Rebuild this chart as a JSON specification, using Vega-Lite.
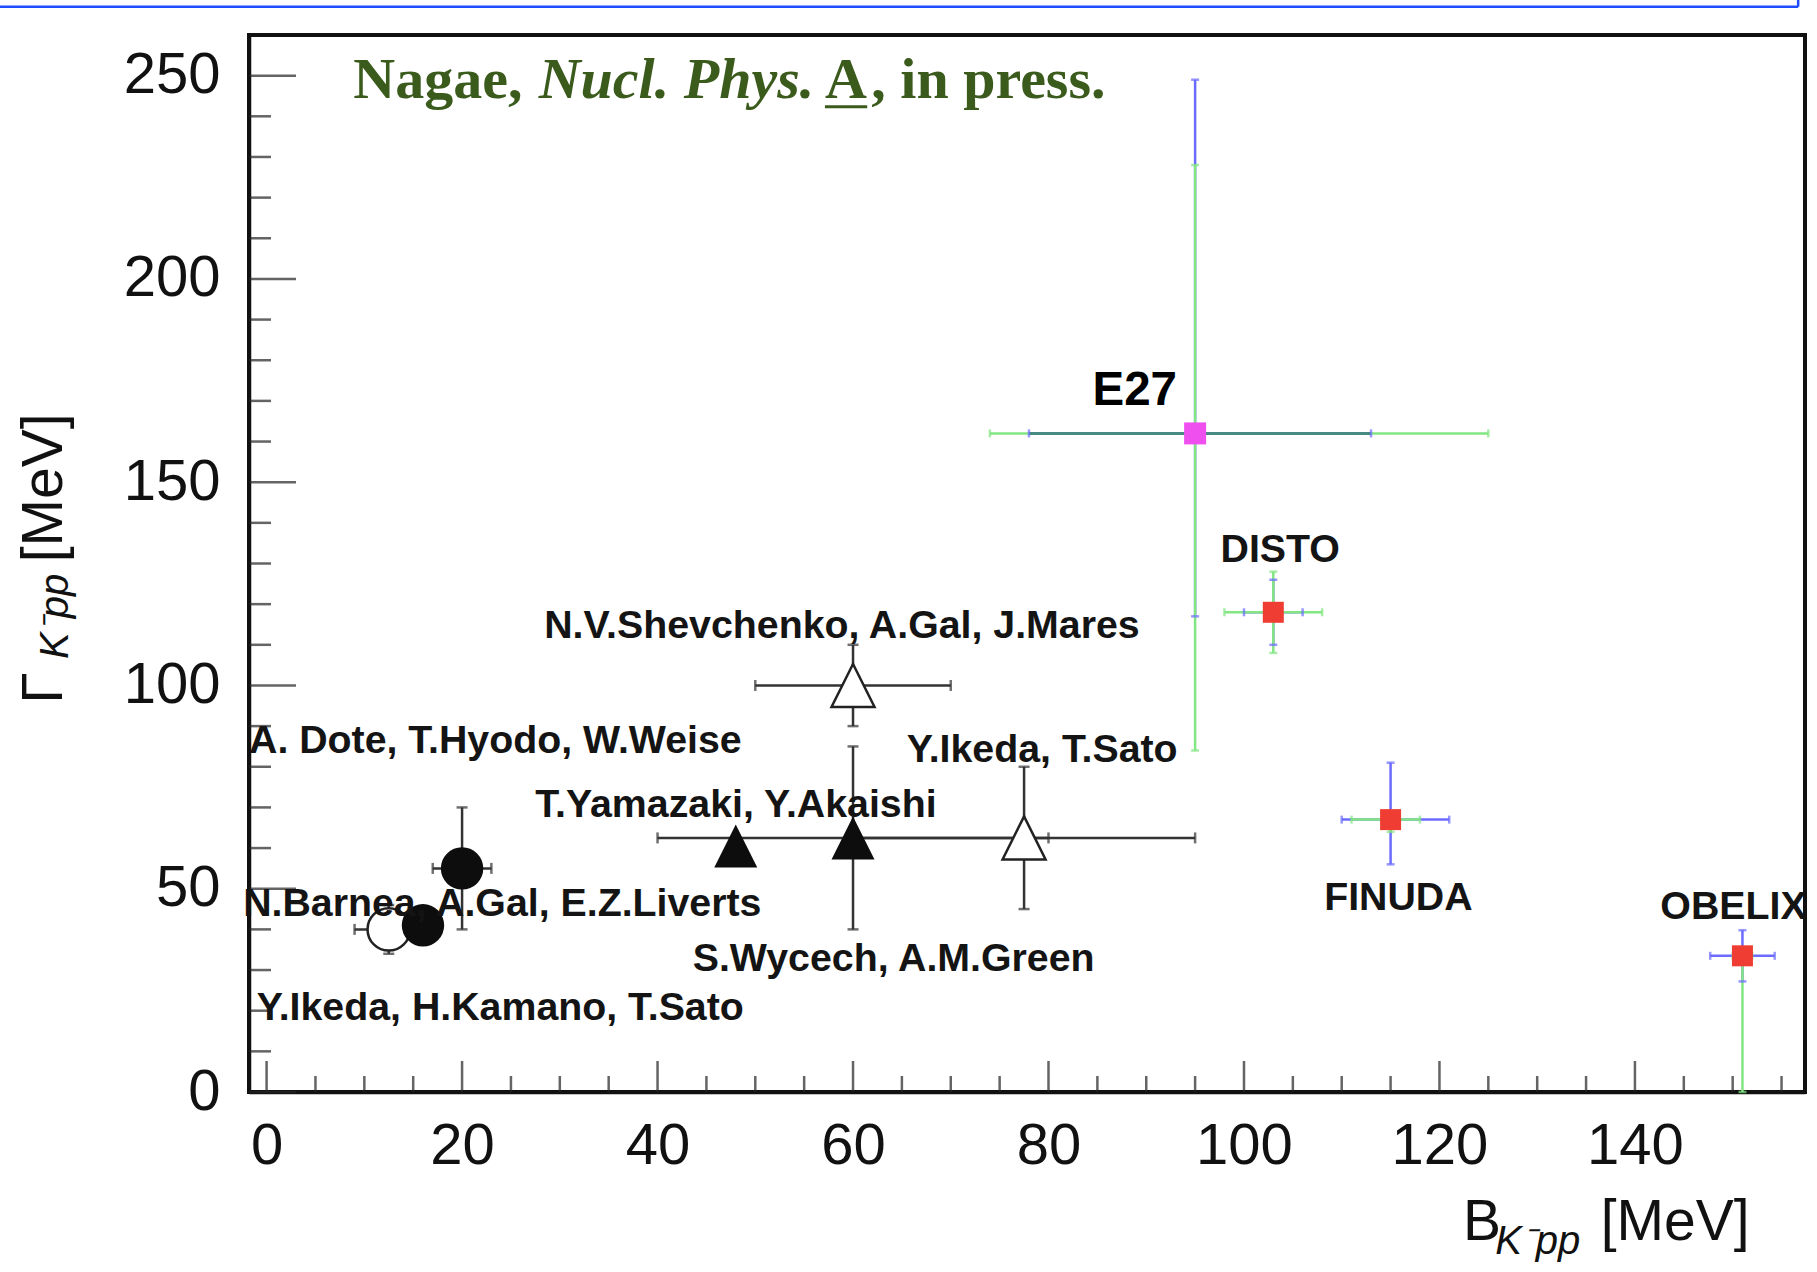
{
  "$schema": "https://vega.github.io/schema/vega-lite/v6.json",
  "width": 1556,
  "height": 1057,
  "autosize": {"type": "none"},
  "padding": {"left": 249, "top": 35, "right": 12, "bottom": 180},
  "background": "white",
  "config": {"view": {"stroke": "#111", "strokeWidth": 4}, "axis": {"grid": false}},
  "datasets": {
    "slide": [
      {"x": -28, "x2": 156.7, "y": 266.96, "y2": 266.96},
      {"x": 156.7, "x2": 156.7, "y": 266.96, "y2": 270}
    ],
    "xticks": [
      {"v": 0, "major": true}, {"v": 5}, {"v": 10}, {"v": 15},
      {"v": 20, "major": true}, {"v": 25}, {"v": 30}, {"v": 35},
      {"v": 40, "major": true}, {"v": 45}, {"v": 50}, {"v": 55},
      {"v": 60, "major": true}, {"v": 65}, {"v": 70}, {"v": 75},
      {"v": 80, "major": true}, {"v": 85}, {"v": 90}, {"v": 95},
      {"v": 100, "major": true}, {"v": 105}, {"v": 110}, {"v": 115},
      {"v": 120, "major": true}, {"v": 125}, {"v": 130}, {"v": 135},
      {"v": 140, "major": true}, {"v": 145}, {"v": 150}, {"v": 155}
    ],
    "yticks": [
      {"v": 0, "major": true}, {"v": 10}, {"v": 20}, {"v": 30}, {"v": 40},
      {"v": 50, "major": true}, {"v": 60}, {"v": 70}, {"v": 80}, {"v": 90},
      {"v": 100, "major": true}, {"v": 110}, {"v": 120}, {"v": 130}, {"v": 140},
      {"v": 150, "major": true}, {"v": 160}, {"v": 170}, {"v": 180}, {"v": 190},
      {"v": 200, "major": true}, {"v": 210}, {"v": 220}, {"v": 230}, {"v": 240},
      {"v": 250, "major": true}
    ],
    "pts": [
      {"who": "Ikeda-Kamano-Sato", "B": 12.5, "G": 40, "m": "open circle"},
      {"who": "Dote-Hyodo-Weise", "B": 20, "G": 55, "m": "filled circle"},
      {"who": "Barnea-Gal-Liverts", "B": 16, "G": 41, "m": "filled circle"},
      {"who": "Yamazaki-Akaishi", "B": 48, "G": 60.5, "m": "filled triangle"},
      {"who": "Wycech-Green", "B": 60, "G": 62.5, "m": "filled triangle"},
      {"who": "Ikeda-Sato", "B": 77.5, "G": 62.5, "m": "open triangle"},
      {"who": "Shevchenko-Gal-Mares", "B": 60, "G": 100, "m": "open triangle"},
      {"who": "E27", "B": 95, "G": 162, "m": "E27"},
      {"who": "DISTO", "B": 103, "G": 118, "m": "experiment"},
      {"who": "FINUDA", "B": 115, "G": 67, "m": "experiment"},
      {"who": "OBELIX", "B": 151, "G": 33.5, "m": "experiment"}
    ],
    "bars": [
      {"who": "Dote-Hyodo-Weise", "dir": "x", "kind": "theory", "lo": 17, "hi": 23, "at": 55},
      {"who": "Dote-Hyodo-Weise", "dir": "y", "kind": "theory", "lo": 40, "hi": 70, "at": 20},
      {"who": "Ikeda-Kamano-Sato", "dir": "x", "kind": "theory", "lo": 9, "hi": 16, "at": 40},
      {"who": "Ikeda-Kamano-Sato", "dir": "y", "kind": "theory", "lo": 34, "hi": 46, "at": 12.5},
      {"who": "Wycech-Green", "dir": "x", "kind": "theory", "lo": 40, "hi": 80, "at": 62.5},
      {"who": "Wycech-Green", "dir": "y", "kind": "theory", "lo": 40, "hi": 85, "at": 60},
      {"who": "Ikeda-Sato", "dir": "x", "kind": "theory", "lo": 60, "hi": 95, "at": 62.5},
      {"who": "Ikeda-Sato", "dir": "y", "kind": "theory", "lo": 45, "hi": 80, "at": 77.5},
      {"who": "Shevchenko-Gal-Mares", "dir": "x", "kind": "theory", "lo": 50, "hi": 70, "at": 100},
      {"who": "Shevchenko-Gal-Mares", "dir": "y", "kind": "theory", "lo": 90, "hi": 110, "at": 60},
      {"who": "E27", "dir": "x", "kind": "syst", "lo": 74, "hi": 125, "at": 162},
      {"who": "E27", "dir": "x", "kind": "stat", "lo": 78, "hi": 113, "at": 162, "top": true},
      {"who": "E27", "dir": "y", "kind": "stat", "lo": 117, "hi": 249, "at": 95},
      {"who": "E27", "dir": "y", "kind": "syst", "lo": 84, "hi": 228, "at": 95},
      {"who": "DISTO", "dir": "x", "kind": "stat", "lo": 100, "hi": 106, "at": 118},
      {"who": "DISTO", "dir": "x", "kind": "syst", "lo": 98, "hi": 108, "at": 118},
      {"who": "DISTO", "dir": "y", "kind": "stat", "lo": 110, "hi": 126, "at": 103},
      {"who": "DISTO", "dir": "y", "kind": "syst", "lo": 108, "hi": 128, "at": 103},
      {"who": "FINUDA", "dir": "x", "kind": "stat", "lo": 110, "hi": 121, "at": 67},
      {"who": "FINUDA", "dir": "x", "kind": "syst", "lo": 111, "hi": 118, "at": 67},
      {"who": "FINUDA", "dir": "y", "kind": "stat", "lo": 56, "hi": 81, "at": 115},
      {"who": "FINUDA", "dir": "y", "kind": "syst", "lo": 64, "hi": 69, "at": 115},
      {"who": "OBELIX", "dir": "x", "kind": "stat", "lo": 147.7, "hi": 154.3, "at": 33.5},
      {"who": "OBELIX", "dir": "x", "kind": "syst", "lo": 150, "hi": 152, "at": 33.5},
      {"who": "OBELIX", "dir": "y", "kind": "stat", "lo": 27.2, "hi": 39.8, "at": 151},
      {"who": "OBELIX", "dir": "y", "kind": "syst", "lo": 0, "hi": 35.5, "at": 151}
    ],
    "labels": [
      {"t": "E27", "x": 84.5, "y": 172.5, "big": true},
      {"t": "DISTO", "x": 97.6, "y": 133.2},
      {"t": "N.V.Shevchenko, A.Gal, J.Mares", "x": 28.4, "y": 114.7},
      {"t": "A. Dote, T.Hyodo, W.Weise", "x": -1.8, "y": 86.4},
      {"t": "Y.Ikeda, T.Sato", "x": 65.5, "y": 84.1},
      {"t": "T.Yamazaki, Y.Akaishi", "x": 27.5, "y": 70.5},
      {"t": "N.Barnea, A.Gal, E.Z.Liverts", "x": -2.4, "y": 46.2},
      {"t": "S.Wycech, A.M.Green", "x": 43.6, "y": 32.8},
      {"t": "Y.Ikeda, H.Kamano, T.Sato", "x": -1.0, "y": 20.6},
      {"t": "FINUDA", "x": 108.2, "y": 47.6},
      {"t": "OBELIX", "x": 142.6, "y": 45.6}
    ],
    "note": [
      {"t": "Nagae,", "x": 8.87, "y": 244.42, "s": "plain"},
      {"t": "Nucl. Phys.", "x": 27.84, "y": 244.42, "s": "italic"},
      {"t": "A", "x": 57.13, "y": 244.42, "s": "plain"},
      {"t": ", in press.", "x": 61.87, "y": 244.42, "s": "plain"}
    ],
    "underline": [
      {"x": 57.13, "x2": 61.45, "y": 242.36}
    ],
    "titles": [
      {"t": "Γ", "x": -20.97, "y": 95.5, "ax": "y", "sub": false},
      {"t": "K⁻pp", "x": -20.3, "y": 106.5, "ax": "y", "sub": true},
      {"t": "[MeV]", "x": -20.97, "y": 130.3, "ax": "y", "sub": false},
      {"t": "B", "x": 122.4, "y": -36.5, "ax": "x", "sub": false},
      {"t": "K⁻pp", "x": 125.7, "y": -39.9, "ax": "x", "sub": true},
      {"t": "[MeV]", "x": 136.5, "y": -36.5, "ax": "x", "sub": false}
    ]
  },
  "layer": [
    {
      "data": {"name": "slide"},
      "mark": {"type": "rule", "stroke": "#1f4cff", "strokeWidth": 2.5},
      "encoding": {
        "x": {
          "field": "x", "type": "quantitative",
          "scale": {"domain": [-1.8, 157.4], "nice": false, "zero": false},
          "axis": {
            "values": [0, 20, 40, 60, 80, 100, 120, 140],
            "format": "d",
            "ticks": false,
            "domain": true, "domainColor": "#111", "domainWidth": 3.5,
            "labelFont": "Liberation Sans", "labelFontSize": 58, "labelColor": "#111",
            "labelPadding": 25, "labelFlush": false, "labelOverlap": false,
            "title": null, "grid": false
          }
        },
        "x2": {"field": "x2"},
        "y": {
          "field": "y", "type": "quantitative",
          "scale": {"domain": [0, 260], "nice": false, "zero": false},
          "axis": {
            "values": [0, 50, 100, 150, 200, 250],
            "format": "d",
            "ticks": false,
            "domain": true, "domainColor": "#111", "domainWidth": 3.5,
            "labelFont": "Liberation Sans", "labelFontSize": 58, "labelColor": "#111",
            "labelPadding": 29, "labelFlush": false, "labelOverlap": false,
            "title": null, "grid": false
          }
        },
        "y2": {"field": "y2"}
      }
    },
    {
      "data": {"name": "xticks"},
      "transform": [{"filter": "datum.major"}],
      "mark": {"type": "tick", "orient": "vertical", "size": 31, "thickness": 2.5, "yOffset": -15.5, "color": "#222"},
      "encoding": {
        "x": {"field": "v", "type": "quantitative", "scale": {"domain": [-1.8, 157.4], "nice": false, "zero": false}},
        "y": {"datum": 0, "type": "quantitative", "scale": {"domain": [0, 260], "nice": false, "zero": false}}
      }
    },
    {
      "data": {"name": "xticks"},
      "transform": [{"filter": "!datum.major"}],
      "mark": {"type": "tick", "orient": "vertical", "size": 16, "thickness": 2.5, "yOffset": -8, "color": "#222"},
      "encoding": {
        "x": {"field": "v", "type": "quantitative", "scale": {"domain": [-1.8, 157.4], "nice": false, "zero": false}},
        "y": {"datum": 0, "type": "quantitative", "scale": {"domain": [0, 260], "nice": false, "zero": false}}
      }
    },
    {
      "data": {"name": "yticks"},
      "transform": [{"filter": "datum.major"}],
      "mark": {"type": "tick", "orient": "horizontal", "size": 47, "thickness": 2.5, "xOffset": 23.5, "color": "#222"},
      "encoding": {
        "y": {"field": "v", "type": "quantitative", "scale": {"domain": [0, 260], "nice": false, "zero": false}},
        "x": {"datum": -1.8, "type": "quantitative", "scale": {"domain": [-1.8, 157.4], "nice": false, "zero": false}}
      }
    },
    {
      "data": {"name": "yticks"},
      "transform": [{"filter": "!datum.major"}],
      "mark": {"type": "tick", "orient": "horizontal", "size": 22, "thickness": 2.5, "xOffset": 11, "color": "#222"},
      "encoding": {
        "y": {"field": "v", "type": "quantitative", "scale": {"domain": [0, 260], "nice": false, "zero": false}},
        "x": {"datum": -1.8, "type": "quantitative", "scale": {"domain": [-1.8, 157.4], "nice": false, "zero": false}}
      }
    },
    {
      "data": {"name": "bars"},
      "transform": [{"filter": "datum.dir === 'y'"}],
      "mark": {"type": "rule", "strokeWidth": 2.5},
      "encoding": {
        "x": {"field": "at", "type": "quantitative", "scale": {"domain": [-1.8, 157.4], "nice": false, "zero": false}},
        "y": {"field": "lo", "type": "quantitative", "scale": {"domain": [0, 260], "nice": false, "zero": false}},
        "y2": {"field": "hi"},
        "color": {"field": "kind", "type": "nominal", "scale": {"domain": ["theory", "stat", "syst"], "range": ["#333333", "#6b6bff", "#82e682"]}, "legend": null}
      }
    },
    {
      "data": {"name": "bars"},
      "transform": [{"filter": "datum.dir === 'x' && !datum.top"}],
      "mark": {"type": "rule", "strokeWidth": 2.5},
      "encoding": {
        "x": {"field": "lo", "type": "quantitative", "scale": {"domain": [-1.8, 157.4], "nice": false, "zero": false}},
        "x2": {"field": "hi"},
        "y": {"field": "at", "type": "quantitative", "scale": {"domain": [0, 260], "nice": false, "zero": false}},
        "color": {"field": "kind", "type": "nominal", "scale": {"domain": ["theory", "stat", "syst"], "range": ["#333333", "#6b6bff", "#82e682"]}, "legend": null}
      }
    },
    {
      "data": {"name": "bars"},
      "transform": [{"filter": "datum.dir === 'x' && datum.top"}],
      "mark": {"type": "rule", "strokeWidth": 3, "stroke": "#478a84"},
      "encoding": {
        "x": {"field": "lo", "type": "quantitative", "scale": {"domain": [-1.8, 157.4], "nice": false, "zero": false}},
        "x2": {"field": "hi"},
        "y": {"field": "at", "type": "quantitative", "scale": {"domain": [0, 260], "nice": false, "zero": false}}
      }
    },
    {
      "data": {"name": "bars"},
      "transform": [{"filter": "datum.dir === 'x' && datum.kind === 'theory'"}, {"fold": ["lo", "hi"], "as": ["end", "pos"]}],
      "mark": {"type": "tick", "orient": "vertical", "size": 11, "thickness": 2.5},
      "encoding": {
        "x": {"field": "pos", "type": "quantitative", "scale": {"domain": [-1.8, 157.4], "nice": false, "zero": false}},
        "y": {"field": "at", "type": "quantitative", "scale": {"domain": [0, 260], "nice": false, "zero": false}},
        "color": {"field": "kind", "type": "nominal", "scale": {"domain": ["theory", "stat", "syst"], "range": ["#333333", "#6b6bff", "#82e682"]}, "legend": null}
      }
    },
    {
      "data": {"name": "bars"},
      "transform": [{"filter": "datum.dir === 'y' && datum.kind === 'theory'"}, {"fold": ["lo", "hi"], "as": ["end", "pos"]}],
      "mark": {"type": "tick", "orient": "horizontal", "size": 11, "thickness": 2.5},
      "encoding": {
        "x": {"field": "at", "type": "quantitative", "scale": {"domain": [-1.8, 157.4], "nice": false, "zero": false}},
        "y": {"field": "pos", "type": "quantitative", "scale": {"domain": [0, 260], "nice": false, "zero": false}},
        "color": {"field": "kind", "type": "nominal", "scale": {"domain": ["theory", "stat", "syst"], "range": ["#333333", "#6b6bff", "#82e682"]}, "legend": null}
      }
    },
    {
      "data": {"name": "bars"},
      "transform": [{"filter": "datum.dir === 'x' && datum.kind !== 'theory'"}, {"fold": ["lo", "hi"], "as": ["end", "pos"]}],
      "mark": {"type": "tick", "orient": "vertical", "size": 8, "thickness": 2.5},
      "encoding": {
        "x": {"field": "pos", "type": "quantitative", "scale": {"domain": [-1.8, 157.4], "nice": false, "zero": false}},
        "y": {"field": "at", "type": "quantitative", "scale": {"domain": [0, 260], "nice": false, "zero": false}},
        "color": {"field": "kind", "type": "nominal", "scale": {"domain": ["theory", "stat", "syst"], "range": ["#333333", "#6b6bff", "#82e682"]}, "legend": null}
      }
    },
    {
      "data": {"name": "bars"},
      "transform": [{"filter": "datum.dir === 'y' && datum.kind !== 'theory'"}, {"fold": ["lo", "hi"], "as": ["end", "pos"]}],
      "mark": {"type": "tick", "orient": "horizontal", "size": 8, "thickness": 2.5},
      "encoding": {
        "x": {"field": "at", "type": "quantitative", "scale": {"domain": [-1.8, 157.4], "nice": false, "zero": false}},
        "y": {"field": "pos", "type": "quantitative", "scale": {"domain": [0, 260], "nice": false, "zero": false}},
        "color": {"field": "kind", "type": "nominal", "scale": {"domain": ["theory", "stat", "syst"], "range": ["#333333", "#6b6bff", "#82e682"]}, "legend": null}
      }
    },
    {
      "data": {"name": "pts"},
      "transform": [{"filter": "datum.m === 'open circle'"}],
      "mark": {"type": "point", "shape": "circle", "size": 1800, "fill": "white", "fillOpacity": 1, "stroke": "#222", "strokeWidth": 2.5, "opacity": 1},
      "encoding": {
        "x": {"field": "B", "type": "quantitative", "scale": {"domain": [-1.8, 157.4], "nice": false, "zero": false}},
        "y": {"field": "G", "type": "quantitative", "scale": {"domain": [0, 260], "nice": false, "zero": false}}
      }
    },
    {
      "data": {"name": "pts"},
      "transform": [{"filter": "datum.m === 'filled circle'"}],
      "mark": {"type": "point", "shape": "circle", "size": 1800, "filled": true, "fill": "#0d0d0d", "opacity": 1},
      "encoding": {
        "x": {"field": "B", "type": "quantitative", "scale": {"domain": [-1.8, 157.4], "nice": false, "zero": false}},
        "y": {"field": "G", "type": "quantitative", "scale": {"domain": [0, 260], "nice": false, "zero": false}}
      }
    },
    {
      "data": {"name": "pts"},
      "transform": [{"filter": "datum.m === 'filled triangle'"}],
      "mark": {"type": "point", "shape": "M0,-1L1,1L-1,1Z", "size": 1850, "filled": true, "fill": "#0d0d0d", "opacity": 1},
      "encoding": {
        "x": {"field": "B", "type": "quantitative", "scale": {"domain": [-1.8, 157.4], "nice": false, "zero": false}},
        "y": {"field": "G", "type": "quantitative", "scale": {"domain": [0, 260], "nice": false, "zero": false}}
      }
    },
    {
      "data": {"name": "pts"},
      "transform": [{"filter": "datum.m === 'open triangle'"}],
      "mark": {"type": "point", "shape": "M0,-1L1,1L-1,1Z", "size": 1850, "fill": "white", "fillOpacity": 1, "stroke": "#222", "strokeWidth": 2.5, "opacity": 1},
      "encoding": {
        "x": {"field": "B", "type": "quantitative", "scale": {"domain": [-1.8, 157.4], "nice": false, "zero": false}},
        "y": {"field": "G", "type": "quantitative", "scale": {"domain": [0, 260], "nice": false, "zero": false}}
      }
    },
    {
      "data": {"name": "pts"},
      "transform": [{"filter": "datum.m === 'experiment'"}],
      "mark": {"type": "point", "shape": "square", "size": 441, "filled": true, "fill": "#ef3d33", "opacity": 1},
      "encoding": {
        "x": {"field": "B", "type": "quantitative", "scale": {"domain": [-1.8, 157.4], "nice": false, "zero": false}},
        "y": {"field": "G", "type": "quantitative", "scale": {"domain": [0, 260], "nice": false, "zero": false}}
      }
    },
    {
      "data": {"name": "pts"},
      "transform": [{"filter": "datum.m === 'E27'"}],
      "mark": {"type": "point", "shape": "square", "size": 484, "filled": true, "fill": "#f04ff0", "opacity": 1},
      "encoding": {
        "x": {"field": "B", "type": "quantitative", "scale": {"domain": [-1.8, 157.4], "nice": false, "zero": false}},
        "y": {"field": "G", "type": "quantitative", "scale": {"domain": [0, 260], "nice": false, "zero": false}}
      }
    },
    {
      "data": {"name": "labels"},
      "transform": [{"filter": "!datum.big"}],
      "mark": {"type": "text", "align": "left", "baseline": "middle", "font": "Liberation Sans", "fontWeight": "bold", "fontSize": 39.3, "fill": "#141414"},
      "encoding": {
        "x": {"field": "x", "type": "quantitative", "scale": {"domain": [-1.8, 157.4], "nice": false, "zero": false}},
        "y": {"field": "y", "type": "quantitative", "scale": {"domain": [0, 260], "nice": false, "zero": false}},
        "text": {"field": "t"}
      }
    },
    {
      "data": {"name": "labels"},
      "transform": [{"filter": "datum.big"}],
      "mark": {"type": "text", "align": "left", "baseline": "middle", "font": "Liberation Sans", "fontWeight": "bold", "fontSize": 47.5, "fill": "#000000"},
      "encoding": {
        "x": {"field": "x", "type": "quantitative", "scale": {"domain": [-1.8, 157.4], "nice": false, "zero": false}},
        "y": {"field": "y", "type": "quantitative", "scale": {"domain": [0, 260], "nice": false, "zero": false}},
        "text": {"field": "t"}
      }
    },
    {
      "data": {"name": "note"},
      "transform": [{"filter": "datum.s === 'plain'"}],
      "mark": {"type": "text", "align": "left", "baseline": "alphabetic", "font": "Liberation Serif", "fontWeight": "bold", "fontSize": 58, "fill": "#3b5b1d"},
      "encoding": {
        "x": {"field": "x", "type": "quantitative", "scale": {"domain": [-1.8, 157.4], "nice": false, "zero": false}},
        "y": {"field": "y", "type": "quantitative", "scale": {"domain": [0, 260], "nice": false, "zero": false}},
        "text": {"field": "t"}
      }
    },
    {
      "data": {"name": "note"},
      "transform": [{"filter": "datum.s === 'italic'"}],
      "mark": {"type": "text", "align": "left", "baseline": "alphabetic", "font": "Liberation Serif", "fontWeight": "bold", "fontStyle": "italic", "fontSize": 58, "fill": "#3b5b1d"},
      "encoding": {
        "x": {"field": "x", "type": "quantitative", "scale": {"domain": [-1.8, 157.4], "nice": false, "zero": false}},
        "y": {"field": "y", "type": "quantitative", "scale": {"domain": [0, 260], "nice": false, "zero": false}},
        "text": {"field": "t"}
      }
    },
    {
      "data": {"name": "underline"},
      "mark": {"type": "rule", "stroke": "#3b5b1d", "strokeWidth": 3},
      "encoding": {
        "x": {"field": "x", "type": "quantitative", "scale": {"domain": [-1.8, 157.4], "nice": false, "zero": false}},
        "x2": {"field": "x2"},
        "y": {"field": "y", "type": "quantitative", "scale": {"domain": [0, 260], "nice": false, "zero": false}}
      }
    },
    {
      "data": {"name": "titles"},
      "transform": [{"filter": "datum.ax === 'y' && !datum.sub"}],
      "mark": {"type": "text", "align": "left", "baseline": "alphabetic", "angle": 270, "font": "Liberation Sans", "fontSize": 57, "fill": "#111"},
      "encoding": {
        "x": {"field": "x", "type": "quantitative", "scale": {"domain": [-1.8, 157.4], "nice": false, "zero": false}},
        "y": {"field": "y", "type": "quantitative", "scale": {"domain": [0, 260], "nice": false, "zero": false}},
        "text": {"field": "t"}
      }
    },
    {
      "data": {"name": "titles"},
      "transform": [{"filter": "datum.ax === 'y' && datum.sub"}],
      "mark": {"type": "text", "align": "left", "baseline": "alphabetic", "angle": 270, "font": "Liberation Sans", "fontStyle": "italic", "fontSize": 40, "fill": "#111"},
      "encoding": {
        "x": {"field": "x", "type": "quantitative", "scale": {"domain": [-1.8, 157.4], "nice": false, "zero": false}},
        "y": {"field": "y", "type": "quantitative", "scale": {"domain": [0, 260], "nice": false, "zero": false}},
        "text": {"field": "t"}
      }
    },
    {
      "data": {"name": "titles"},
      "transform": [{"filter": "datum.ax === 'x' && !datum.sub"}],
      "mark": {"type": "text", "align": "left", "baseline": "alphabetic", "font": "Liberation Sans", "fontSize": 57, "fill": "#111"},
      "encoding": {
        "x": {"field": "x", "type": "quantitative", "scale": {"domain": [-1.8, 157.4], "nice": false, "zero": false}},
        "y": {"field": "y", "type": "quantitative", "scale": {"domain": [0, 260], "nice": false, "zero": false}},
        "text": {"field": "t"}
      }
    },
    {
      "data": {"name": "titles"},
      "transform": [{"filter": "datum.ax === 'x' && datum.sub"}],
      "mark": {"type": "text", "align": "left", "baseline": "alphabetic", "font": "Liberation Sans", "fontStyle": "italic", "fontSize": 40, "fill": "#111"},
      "encoding": {
        "x": {"field": "x", "type": "quantitative", "scale": {"domain": [-1.8, 157.4], "nice": false, "zero": false}},
        "y": {"field": "y", "type": "quantitative", "scale": {"domain": [0, 260], "nice": false, "zero": false}},
        "text": {"field": "t"}
      }
    }
  ]
}
